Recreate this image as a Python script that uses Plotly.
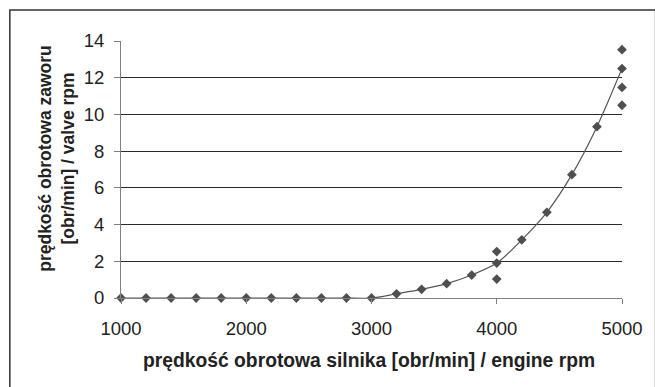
import plotly.graph_objects as go

# Engine speed [rpm] and the mean valve speed measured at each step
engine_rpm = [1000, 1200, 1400, 1600, 1800, 2000, 2200, 2400, 2600, 2800, 3000,
              3200, 3400, 3600, 3800, 4000, 4200, 4400, 4600, 4800, 5000]
valve_rpm = [0, 0, 0, 0, 0, 0, 0, 0, 0, 0, 0,
             0.23, 0.47, 0.78, 1.25, 1.90, 3.17, 4.67, 6.72, 9.33, 12.5]

# Additional scattered measurements at 4000 and 5000 rpm
extra_engine_rpm = [4000, 4000, 5000, 5000, 5000]
extra_valve_rpm = [2.53, 1.03, 13.53, 11.47, 10.5]

x_ticks = [1000, 2000, 3000, 4000, 5000]
y_ticks = [0, 2, 4, 6, 8, 10, 12, 14]

x_title = "prędkość obrotowa silnika [obr/min] / engine rpm"
y_title = "prędkość obrotowa zaworu<br>[obr/min] / valve rpm"

FONT = "Liberation Sans, Arial, sans-serif"
MARK = "#4f4f4f"

W, H = 655, 387
L, R, T, B = 121, 27, 41, 89
PW, PH = W - L - R, H - T - B


def px_to_paper_x(px):
    return (px - L) / PW


def px_to_paper_y(py):
    return (H - B - py) / PH


fig = go.Figure()

fig.add_trace(go.Scatter(
    x=engine_rpm, y=valve_rpm,
    mode="lines+markers",
    line=dict(color="#555555", width=1.2, shape="spline", smoothing=0.8),
    marker=dict(symbol="diamond", size=7.5, color=MARK),
    cliponaxis=False,
    showlegend=False,
))

fig.add_trace(go.Scatter(
    x=extra_engine_rpm, y=extra_valve_rpm,
    mode="markers",
    marker=dict(symbol="diamond", size=7.5, color=MARK),
    cliponaxis=False,
    showlegend=False,
))

fig.update_layout(
    width=W, height=H,
    margin=dict(l=L, r=R, t=T, b=B, pad=0),
    paper_bgcolor="white",
    plot_bgcolor="white",
    font=dict(family=FONT, color="#222222"),
    xaxis=dict(
        range=[1000, 5000],
        tickvals=x_ticks,
        ticktext=[str(v) for v in x_ticks],
        showgrid=False,
        zeroline=False,
        showline=True,
        linecolor="#808080",
        linewidth=1,
        ticks="outside",
        ticklen=5,
        tickcolor="#808080",
        tickfont=dict(size=18.5, family=FONT, color="#222222"),
        ticklabelstandoff=9,
    ),
    yaxis=dict(
        range=[0, 14],
        tickvals=y_ticks,
        showgrid=True,
        gridcolor="#2a2a2a",
        gridwidth=1,
        zeroline=False,
        showline=True,
        linecolor="#808080",
        linewidth=1,
        ticks="outside",
        ticklen=6,
        tickcolor="#808080",
        tickfont=dict(size=18.5, family=FONT, color="#222222"),
        ticklabelstandoff=6,
    ),
    annotations=[
        dict(
            text="<b>" + x_title + "</b>",
            xref="paper", yref="paper",
            x=px_to_paper_x(372), y=px_to_paper_y(360),
            xanchor="center", yanchor="middle",
            showarrow=False,
            font=dict(size=19.3, family=FONT, color="#222222"),
        ),
        dict(
            text="<b>" + y_title + "</b>",
            xref="paper", yref="paper",
            x=px_to_paper_x(55), y=px_to_paper_y(158),
            xanchor="center", yanchor="middle",
            textangle=-90,
            showarrow=False,
            font=dict(size=17.5, family=FONT, color="#222222"),
        ),
    ],
    shapes=[
        dict(
            type="rect",
            xref="paper", yref="paper",
            x0=px_to_paper_x(8.5), x1=px_to_paper_x(662),
            y0=px_to_paper_y(395), y1=px_to_paper_y(10),
            line=dict(color="#333333", width=1.5),
            fillcolor="rgba(0,0,0,0)",
            layer="below",
        ),
    ],
)

fig.write_html("out.html")
